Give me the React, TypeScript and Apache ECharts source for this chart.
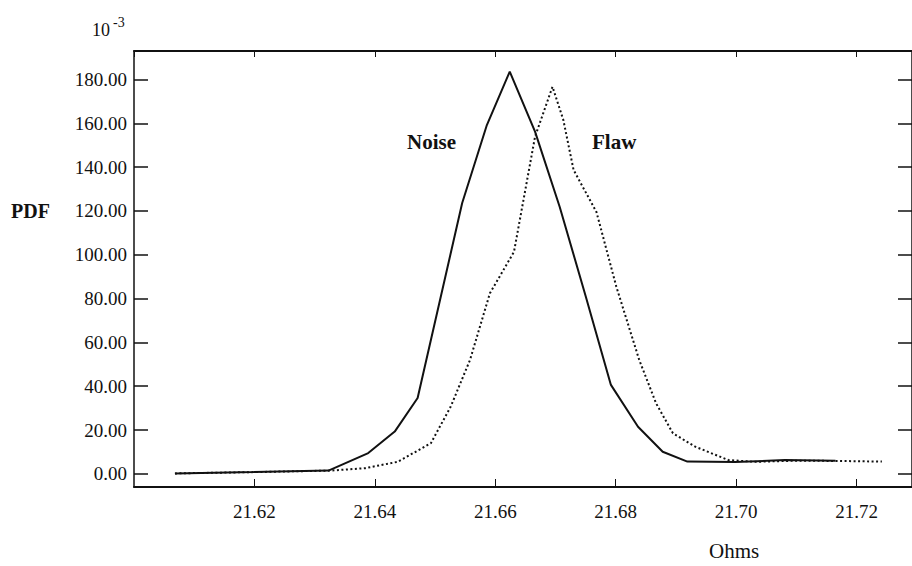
import React, { useEffect, useRef } from "react";
import * as echarts from "echarts";

// Ohms (x) and PDF x 10^-3 (y)
const noiseX = [21.6068, 21.6199, 21.6323, 21.6389, 21.6433, 21.6471, 21.6545, 21.6586, 21.6624, 21.6666, 21.6707, 21.675, 21.6792, 21.6837, 21.6878, 21.6919, 21.6998, 21.7081, 21.7165];
const noiseY = [0.2, 0.8, 1.5, 9.5, 19.3, 34.6, 123.6, 159.2, 183.6, 156.2, 121.8, 81.2, 40.6, 21.5, 10.1, 5.6, 5.4, 6.3, 6.0];
const flawX = [21.6068, 21.6199, 21.6328, 21.6384, 21.6438, 21.6493, 21.6526, 21.6558, 21.6591, 21.6631, 21.6666, 21.6695, 21.6713, 21.673, 21.6768, 21.6801, 21.6839, 21.6867, 21.6895, 21.6932, 21.6987, 21.7031, 21.7097, 21.7165, 21.7242];
const flawY = [0.2, 0.8, 1.5, 2.6, 5.5, 14.0, 30.7, 52.0, 82.4, 101.3, 153.9, 176.7, 161.5, 138.7, 119.5, 85.4, 52.0, 32.2, 18.5, 12.4, 6.3, 5.5, 6.0, 5.9, 5.6];
const yTicks = [0, 20, 40, 60, 80, 100, 120, 140, 160, 180];
const seriesNames = ["Noise", "Flaw"];

export default function App() {
  const ref = useRef<HTMLDivElement>(null);
  useEffect(() => {
    const chart = echarts.init(ref.current!, null, { renderer: "svg" });
    const font = "'Liberation Serif', 'Times New Roman', serif";
    const ink = "#111";
    const xCommon = {
      type: "value",
      min: 21.6,
      max: 21.7292,
      interval: 0.02,
      splitLine: { show: false },
      axisLine: { show: true, onZero: false, lineStyle: { color: ink, width: 2 } },
    };
    const yCommon = {
      type: "value",
      min: -6,
      max: 193,
      splitLine: { show: false },
      axisLine: { show: true, onZero: false, lineStyle: { color: ink, width: 1.5 } },
    };
    chart.setOption({
      animation: false,
      backgroundColor: "#ffffff",
      grid: { left: 134, top: 51, width: 784, height: 436, containLabel: false },
      xAxis: [
        {
          ...xCommon,
          position: "bottom",
          axisTick: { show: true, inside: true, length: 8, lineStyle: { color: ink, width: 1 } },
          axisLabel: {
            show: true,
            showMinLabel: false,
            showMaxLabel: false,
            margin: 15,
            color: ink,
            fontFamily: font,
            fontSize: 19,
            formatter: (v: number) => v.toFixed(2),
          },
        },
        {
          ...xCommon,
          position: "top",
          axisTick: { show: true, inside: true, length: 6, lineStyle: { color: ink, width: 1 } },
          axisLabel: { show: false },
        },
      ],
      yAxis: [
        {
          ...yCommon,
          position: "left",
          axisTick: { show: true, inside: true, length: 14, customValues: yTicks, lineStyle: { color: ink, width: 1.5 } },
          axisLabel: {
            show: true,
            customValues: yTicks,
            margin: 7,
            color: ink,
            fontFamily: font,
            fontSize: 19,
            formatter: (v: number) => v.toFixed(2),
          },
        },
        {
          ...yCommon,
          position: "right",
          axisTick: { show: true, inside: true, length: 14, customValues: yTicks, lineStyle: { color: ink, width: 1.5 } },
          axisLabel: { show: false },
        },
      ],
      series: [
        {
          name: seriesNames[1],
          type: "line",
          symbol: "none",
          data: flawX.map((x, i) => [x, flawY[i]]),
          lineStyle: { color: ink, width: 2, type: [2, 2.5] },
          z: 2,
        },
        {
          name: seriesNames[0],
          type: "line",
          symbol: "none",
          data: noiseX.map((x, i) => [x, noiseY[i]]),
          lineStyle: { color: ink, width: 2 },
          z: 3,
        },
      ],
      graphic: [
        { type: "text", left: 92, top: 21, style: { text: "10", font: `18px ${font}`, fill: ink } },
        { type: "text", left: 113, top: 15, style: { text: "-3", font: `14px ${font}`, fill: ink } },
        { type: "text", left: 11, top: 201, style: { text: "PDF", font: `bold 20px ${font}`, fill: ink } },
        { type: "text", left: 407, top: 131, style: { text: seriesNames[0], font: `bold 21px ${font}`, fill: ink } },
        { type: "text", left: 592, top: 131, style: { text: seriesNames[1], font: `bold 21px ${font}`, fill: ink } },
        { type: "text", left: 709, top: 540, style: { text: "Ohms", font: `21px ${font}`, fill: ink } },
      ],
    });
    return () => chart.dispose();
  }, []);
  return (
    <div
      ref={ref}
      style={{ position: "fixed", left: 0, top: 0, width: 912, height: 566, background: "#fff" }}
    />
  );
}
